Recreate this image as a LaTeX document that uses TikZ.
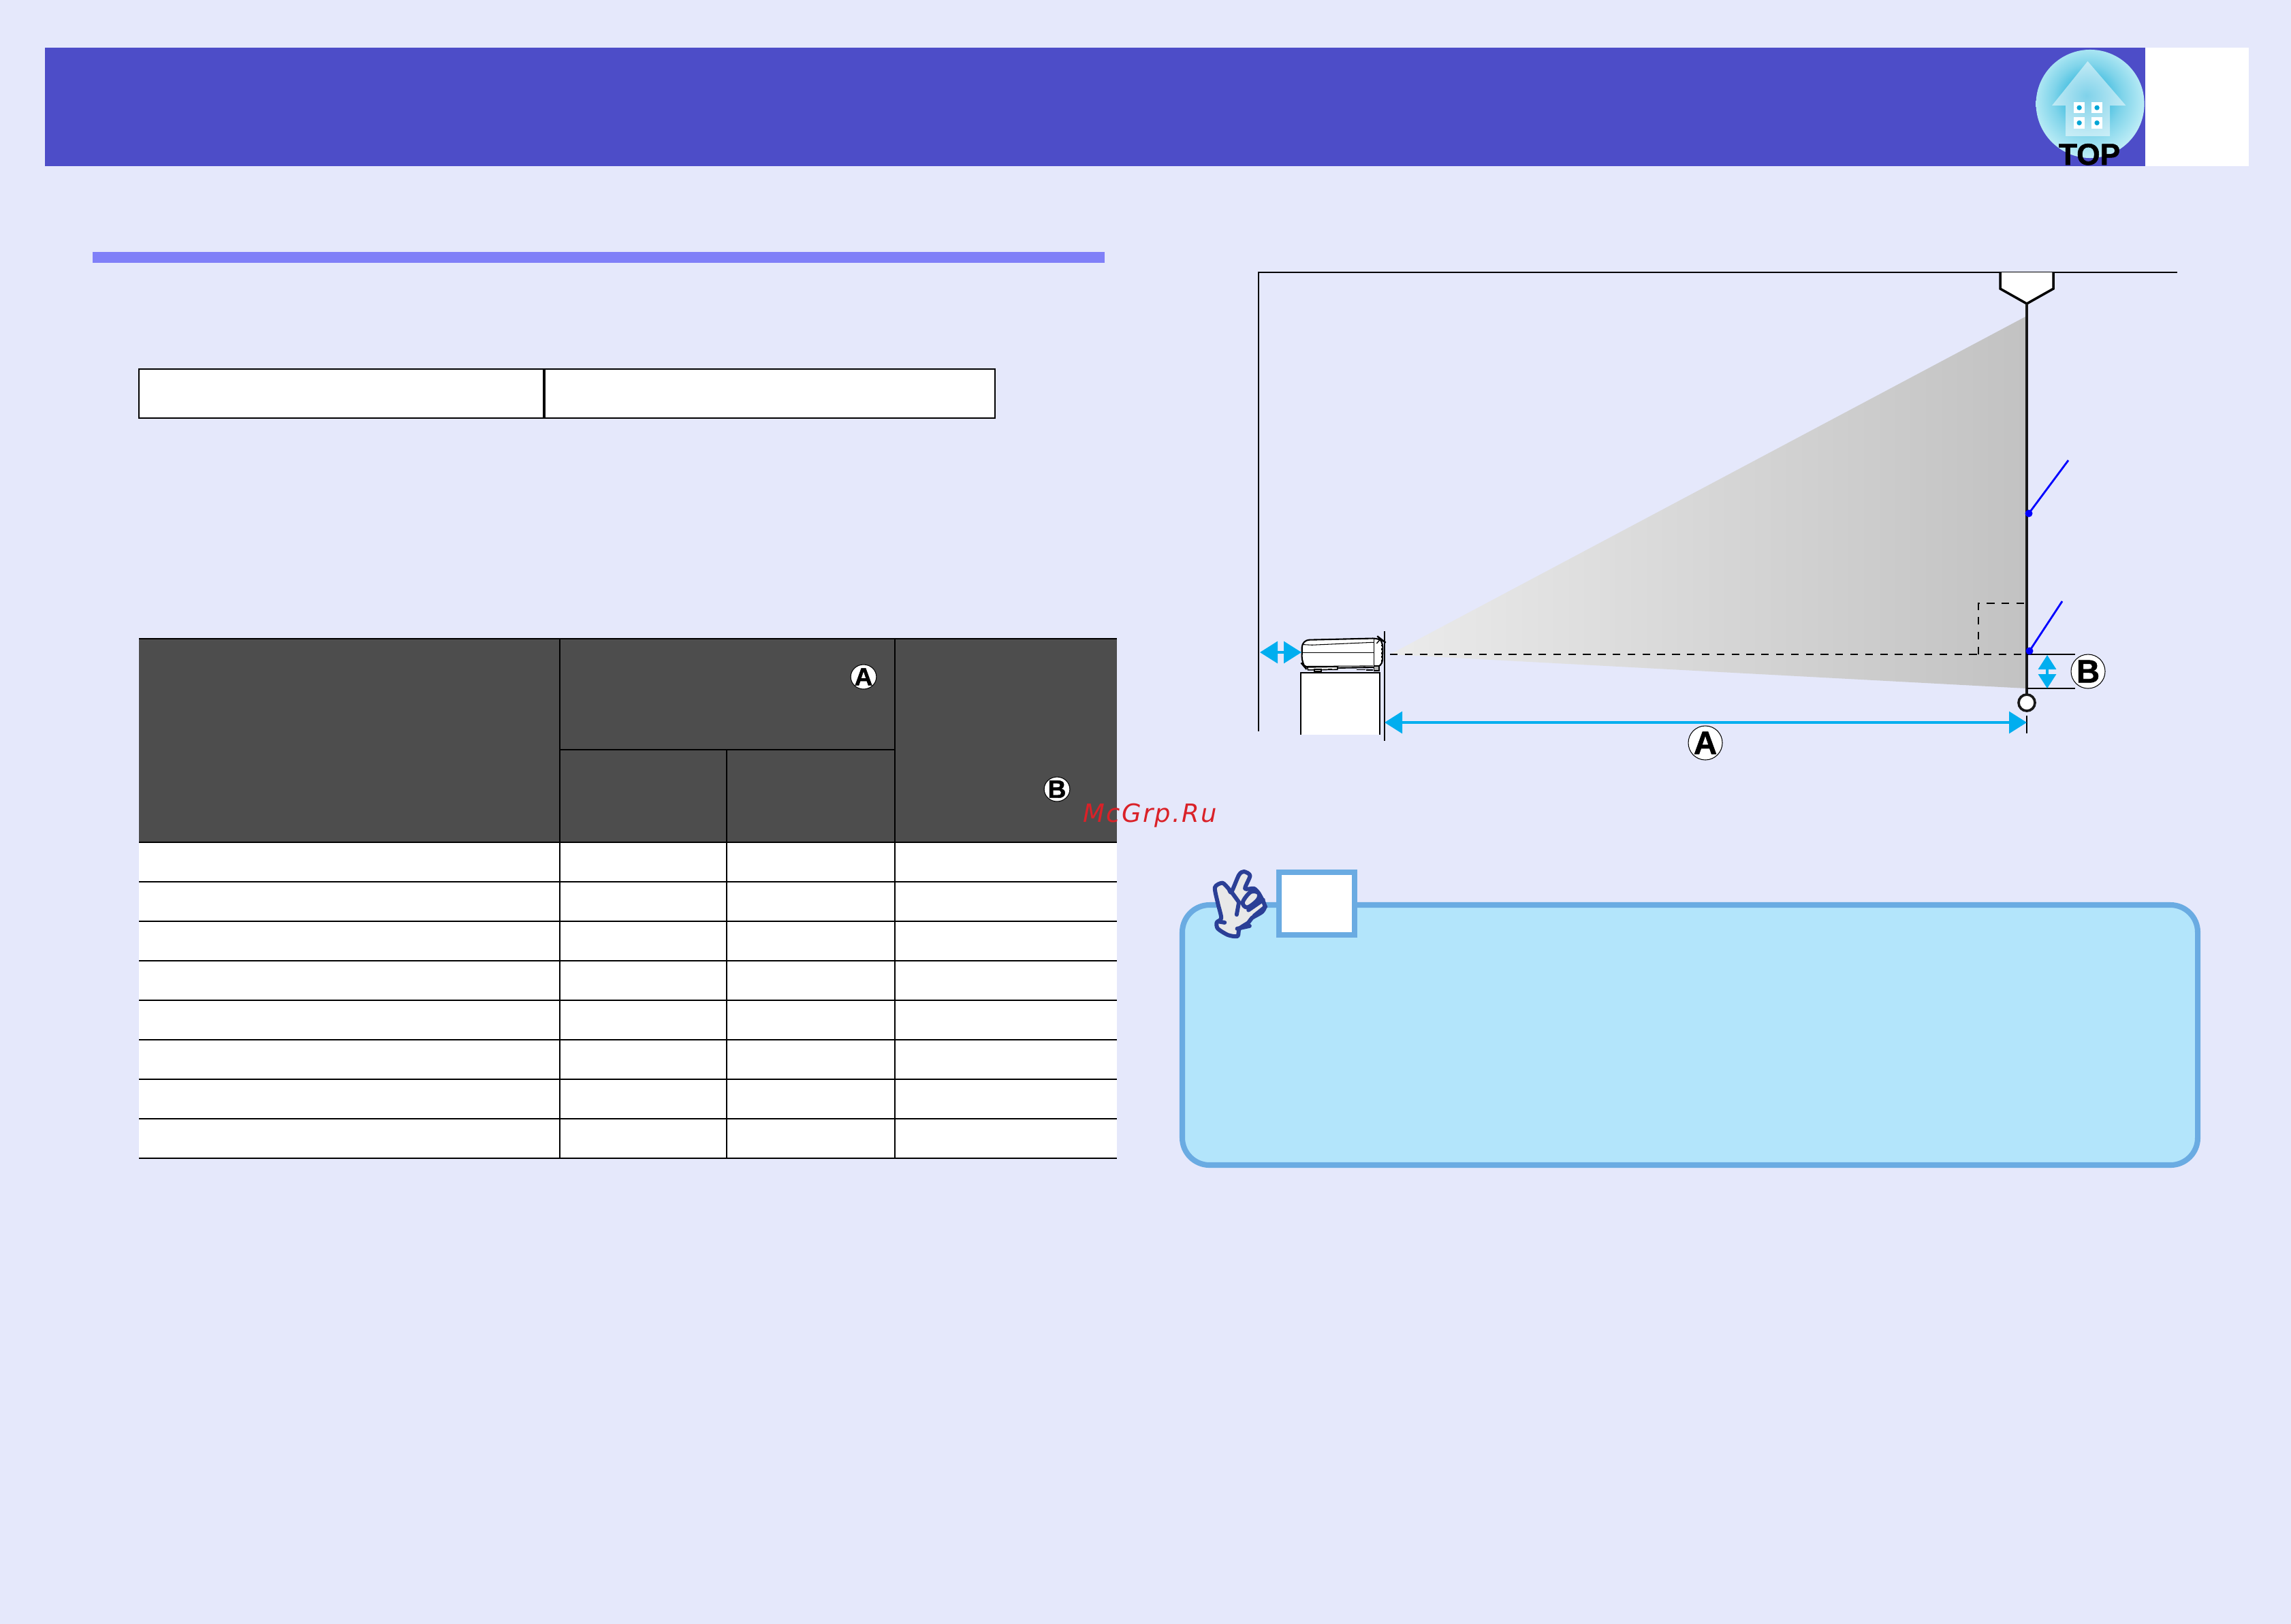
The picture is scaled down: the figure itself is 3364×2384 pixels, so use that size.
\documentclass[tikz,border=0pt]{standalone}
\usepackage{fontspec}
\setmainfont{Liberation Sans}
\newfontfamily\badgefont[BoldFeatures={FakeBold=1.2}]{Liberation Sans}
\newfontfamily\markfont[LetterSpace=6]{DejaVu Sans}
\usetikzlibrary{arrows.meta,shapes.geometric}
\definecolor{pagebg}{HTML}{E5E8FB}
\definecolor{headblue}{HTML}{4D4DC8}
\definecolor{barblue}{HTML}{8080F8}
\definecolor{tabhead}{HTML}{4D4D4D}
\definecolor{cyanarrow}{HTML}{00AEEF}
\definecolor{notefill}{HTML}{B3E5FB}
\definecolor{noteline}{HTML}{6AABE2}
\definecolor{handblue}{HTML}{2B3F96}
\definecolor{handfill}{HTML}{E8E8E8}
\definecolor{markred}{HTML}{DA2128}
\definecolor{topA}{HTML}{00A5D5}
\definecolor{topB}{HTML}{80D4EA}
\definecolor{topC}{HTML}{D8F8FC}
\definecolor{topD}{HTML}{F8FFFF}
\definecolor{beamL}{HTML}{EBEBEB}
\definecolor{beamR}{HTML}{C2C2C2}
\pgfdeclareradialshading{topglow}{\pgfpoint{-1.7bp}{3.8bp}}{color(0bp)=(topA);color(16bp)=(topB);color(31bp)=(topC);color(50bp)=(topD)}
\tikzset{
  rule/.style={line width=0.6pt,black},
  thinrule/.style={line width=0.4pt,black},
  wall/.style={line width=0.6pt,black},
  dashline/.style={line width=0.55pt,black,dash pattern=on 3.2pt off 3pt},
  pointer/.style={line width=0.8pt,blue},
  dimarrow/.style={cyanarrow,line width=0.95pt,{Triangle[length=0.26cm,width=0.32cm]}-{Triangle[length=0.26cm,width=0.32cm]}},
  vdimarrow/.style={cyanarrow,line width=0.95pt,{Triangle[length=0.21cm,width=0.26cm]}-{Triangle[length=0.21cm,width=0.26cm]}},
  badgebig/.style={ellipse,draw=black,line width=0.3pt,fill=white,inner sep=0pt,minimum width=0.5cm,minimum height=0.5cm,font=\badgefont\bfseries\fontsize{13.5pt}{13.5pt}\selectfont},
  badgesmall/.style={ellipse,draw=black,line width=0.3pt,fill=white,inner sep=0pt,minimum width=0.36cm,minimum height=0.36cm,font=\badgefont\bfseries\fontsize{10.5pt}{10.5pt}\selectfont},
}
\begin{document}
\begin{tikzpicture}[x=0.01cm,y=-0.01cm]
\useasboundingbox (0,0) rectangle (3364,2384);
\fill[pagebg] (-2,-2) rectangle (3366,2386);
% header
\fill[headblue] (66,70) rectangle (3150,244);
\fill[white] (3150,70) rectangle (3302,244);
% TOP icon
\begin{scope}[shift={(2900,40)},x=0.00333cm,y=-0.00333cm]
  \shade[shading=topglow] (508,338) circle [radius=239];
  \fill[white,opacity=.5] (497,150) -- (665,345) -- (595,345) -- (595,480) -- (400,480) -- (400,345) -- (340,345) -- cycle;
  \foreach \wx/\wy in {460/355,538/355,460/422,538/422}{
    \fill[white] (\wx-23,\wy-25) rectangle (\wx+23,\wy+25);
    \fill[topA] (\wx,\wy) circle [radius=11];
  }
\end{scope}
\begin{scope}
  \clip (2900,70) rectangle (3150,244);
  \node[font=\badgefont\bfseries\fontsize{12.6pt}{12.6pt}\selectfont,text=black,inner sep=0pt,anchor=base] (toplabel) at (3068,242) {TOP};
\end{scope}
% section bar
\fill[barblue] (136,370) rectangle (1622,386);
% small table
\draw[rule,fill=white] (204,542) rectangle (1461,614);
\draw[line width=0.9pt] (799,542) -- (799,614);
% big table
\begin{scope}[shift={(0,1)}]
\fill[white] (204,1236) rectangle (1640,1700);
\fill[tabhead] (204,937) rectangle (1640,1236);
\draw[line width=0.8pt] (204,937) -- (1640,937);
\draw[line width=0.8pt] (204,1236) -- (1640,1236);
\draw[thinrule] (822,1100) -- (1314,1100);
\foreach \ry in {1294,1352,1410,1468,1526,1584,1642,1700}{
  \draw[thinrule] (204,\ry) -- (1640,\ry);
}
\draw[rule] (822,937) -- (822,1700);
\draw[rule] (1314,937) -- (1314,1700);
\draw[rule] (1067,1100) -- (1067,1700);
\node[badgesmall] (tabA) at (1268,993) {A};
\node[badgesmall] (tabB) at (1552,1158) {B};
\end{scope}
% watermark
\node[font=\markfont\itshape\fontsize{10.5pt}{10.5pt}\selectfont,text=markred,inner sep=0pt,anchor=base west] (mark) at (1590,1207) {McGrp.Ru};
% diagram
\begin{scope}[shift={(0,1)}]
\coordinate (apex) at (2041,960);
\coordinate (scrtop) at (2976,463);
\coordinate (scrbot) at (2976,1010);
\shade[left color=beamL,right color=beamR] (apex) -- (scrtop) -- (scrbot) -- cycle;
\coordinate (wallb) at (1848,1073);
\coordinate (wallt) at (1848,399);
\coordinate (ceilr) at (3197,399);
\draw[wall] (wallb) -- (wallt) -- (ceilr);
\coordinate (scrpin) at (2976,1031);
\fill[white] (2937,399) -- (2937,423) -- (2976,445) -- (3015,423) -- (3015,399) -- cycle;
\draw[line width=1pt] (2937,399) -- (2937,423) -- (2976,445) -- (3015,423) -- (3015,399);
\draw[line width=1.15pt,black!90] (2976,445) -- (scrpin);
\draw[line width=1.05pt,black!90,fill=white] (scrpin) circle [radius=12];
\draw[dashline] (apex) -- (2976,960);
\draw[dashline] (2905,960) -- (2905,885) -- (2976,885);
\draw[thinrule] (2976,960) -- (3047,960);
\draw[thinrule] (2976,1010) -- (3047,1010);
\draw[wall] (2033,926) -- (2033,1087);
\draw[wall] (2976,1050) -- (2976,1076);
\coordinate (p1) at (2979,753);
\coordinate (p1e) at (3037,675);
\coordinate (p2) at (2980,955);
\coordinate (p2e) at (3028,882);
\draw[pointer] (p1) -- (p1e);
\draw[pointer] (p2) -- (p2e);
\fill[blue] (p1) circle [radius=5.5];
\fill[blue] (p2) circle [radius=5.5];
\fill[white] (1910,987) rectangle (2026,1078);
\draw[line width=0.8pt] (1910,1078) -- (1910,987) -- (2026,987) -- (2026,1078);
\begin{scope}[shift={(1830,899)},x=0.00333cm,y=-0.00333cm]
  \draw[line width=.6pt,fill=white,rounded corners=3pt] (246,120) -- (590,112) -- (603,122) -- (600,240) -- (262,245) -- (245,225) -- cycle;
  \draw[line width=.3pt] (246,176) -- (565,176);
  \draw[line width=.3pt] (562,115) -- (562,238);
  \draw[line width=.3pt] (250,140) -- (290,142) -- (562,130);
  \draw[line width=.3pt] (255,236) -- (560,234);
  \draw[line width=.45pt,fill=white] (270,240) -- (402,238) -- (402,250) -- (272,252) -- cycle;
  \draw[line width=.45pt,fill=white] (300,250) rectangle (330,258);
  \draw[line width=.45pt] (360,248) -- (380,248);
  \draw[line width=.45pt,fill=black!30] (563,234) rectangle (586,256);
  \draw[line width=.4pt] (488,250) -- (525,250) (530,252) -- (560,252);
  \draw[line width=.6pt,dash pattern=on .8pt off .8pt] (598,140) -- (598,222);
  \draw[line width=.4pt] (590,118) -- (575,135);
\end{scope}
\coordinate (hl) at (1850,957);
\coordinate (hr) at (1911,957);
\draw[dimarrow] (hl) -- (hr);
\coordinate (al) at (2033,1060);
\coordinate (ar) at (2976,1060);
\draw[dimarrow] (al) -- (ar);
\coordinate (vt) at (3006,961);
\coordinate (vb) at (3006,1010);
\draw[vdimarrow] (vt) -- (vb);
\node[badgebig] (diagB) at (3066,985) {B};
\node[badgebig] (diagA) at (2504,1090) {A};
\end{scope}
% note box
\draw[noteline,line width=2.3pt,fill=notefill,rounded corners=0.4cm] (1736,1329) rectangle (3227,1711);
\draw[noteline,line width=2.3pt,fill=white] (1878,1281) rectangle (1989,1373);
% hand
\begin{scope}[shift={(1720,1260)},x=0.00333cm,y=-0.00333cm,handline/.style={handblue,line width=1.7pt,line cap=round,line join=round}]
  \draw[handline,fill=handfill] plot[smooth cycle,tension=.45] coordinates {(192,130) (225,110) (252,135) (265,150) (298,75) (320,60) (347,78) (325,135) (365,135) (388,160) (412,210) (400,238) (355,265) (340,285) (300,312) (292,345) (250,340) (205,312) (200,285) (220,265) (205,200)};
  \draw[handline] (265,150) -- (298,195) -- (288,250);
  \draw[handline,fill=handfill] plot[smooth cycle,tension=.6] coordinates {(315,195) (350,150) (385,155) (380,185) (335,218)};
  \draw[handline] (340,230) -- (405,185);
  \draw[handline] (365,255) -- (415,215);
  \draw[handline] (205,280) -- (235,285);
  \draw[handline] (290,312) -- (345,300);
\end{scope}
\end{tikzpicture}
\end{document}
